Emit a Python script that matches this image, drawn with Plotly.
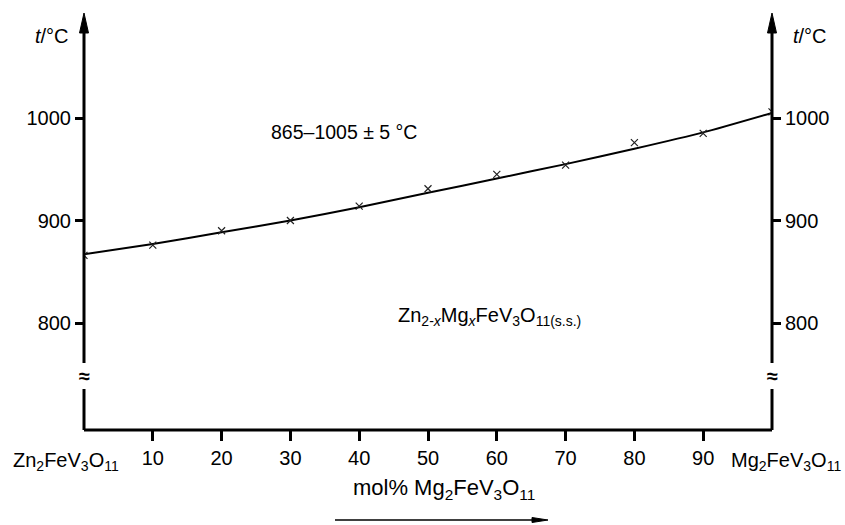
import plotly.graph_objects as go

# ---- data ----
composition = [0, 10, 20, 30, 40, 50, 60, 70, 80, 90, 100]          # mol% Mg2FeV3O11
t_measured = [866, 876, 890, 900, 914, 931, 945, 954, 976, 985, 1006]  # °C
curve_t = [867, 877, 888.5, 900, 913, 927, 941, 955, 970, 986, 1005]   # smoothed line
x_tick_vals = [10, 20, 30, 40, 50, 60, 70, 80, 90]
y_tick_vals = [800, 900, 1000]
end_labels = ["Zn<sub>2</sub>FeV<sub>3</sub>O<sub>11</sub>", "Mg<sub>2</sub>FeV<sub>3</sub>O<sub>11</sub>"]
range_label = "865–1005 ± 5 °C"
phase_label = "Zn<sub>2-<i>x</i></sub>Mg<sub><i>x</i></sub>FeV<sub>3</sub>O<sub>11(s.s.)</sub>"
x_title = "mol% Mg<sub>2</sub>FeV<sub>3</sub>O<sub>11</sub>"
y_title = "<i>t</i>/°C"

# ---- layout geometry (pixels) ----
W, H = 845, 525
L, R, T, B = 84, 772, 15, 430
Y_RANGE = [695.6, 1100.5]
BREAK = [735.6, 761.0]
FONT = "Liberation Sans, Arial, Helvetica, sans-serif"
FS = 20


def px(x):
    return (x - L) / (R - L)


def py(y):
    return (B - y) / (B - T)


fig = go.Figure()
fig.add_trace(go.Scatter(x=composition, y=curve_t, mode="lines",
                         line=dict(color="black", width=2, shape="spline", smoothing=0.6),
                         hoverinfo="skip", showlegend=False))
fig.add_trace(go.Scatter(x=composition, y=t_measured, mode="markers",
                         marker=dict(symbol="x-thin", size=7, line=dict(color="#222", width=1.2)),
                         showlegend=False))
fig.add_trace(go.Scatter(x=composition, y=t_measured, yaxis="y2", mode="markers",
                         marker=dict(opacity=0), hoverinfo="skip", showlegend=False))

common = dict(showline=False, showgrid=False, zeroline=False, automargin=False,
              tickfont=dict(size=FS), fixedrange=True)
fig.update_layout(
    width=W, height=H,
    margin=dict(l=L, r=W - R, t=T, b=H - B, autoexpand=False),
    paper_bgcolor="white", plot_bgcolor="white",
    font=dict(family=FONT, size=FS, color="black"),
    xaxis=dict(range=[0, 100], tickvals=x_tick_vals, ticks="outside", ticklen=10, tickwidth=3,
               tickcolor="black", **common),
    yaxis=dict(range=Y_RANGE, tickvals=y_tick_vals, ticks="outside", ticklen=8, tickwidth=2.5,
               tickcolor="black", **common),
    yaxis2=dict(range=Y_RANGE, overlaying="y", side="right", tickvals=y_tick_vals, ticks="outside",
                ticklen=8, tickwidth=2.5, tickcolor="black", anchor="x", **common),
)

line_style = dict(color="black", width=3)
shapes = []
shapes.append(dict(type="line", xref="paper", yref="paper", x0=0, x1=1, y0=0, y1=0, line=line_style))
for xp in (0, 1):
    shapes.append(dict(type="line", xref="paper", yref="y", x0=xp, x1=xp, y0=Y_RANGE[0], y1=BREAK[0],
                       line=line_style))
    shapes.append(dict(type="line", xref="paper", yref="y", x0=xp, x1=xp, y0=BREAK[1], y1=Y_RANGE[1] - 8,
                       line=line_style))
    tip, base, hw = py(13), py(33), 4.5 / (R - L)
    shapes.append(dict(type="path", xref="paper", yref="paper",
                       path=f"M {xp - hw} {base} L {xp} {tip} L {xp + hw} {base} Z",
                       fillcolor="black", line=dict(color="black", width=1)))
ax0, ax1, ay = px(335), px(548), py(520)
shapes.append(dict(type="line", xref="paper", yref="paper", x0=ax0, x1=px(535), y0=ay, y1=ay,
                   line=dict(color="black", width=1.5)))
hh = 2.5 / (B - T)
shapes.append(dict(type="path", xref="paper", yref="paper",
                   path=f"M {px(532)} {ay + hh} L {ax1} {ay} L {px(532)} {ay - hh} Z",
                   fillcolor="black", line=dict(color="black", width=1)))
fig.update_layout(shapes=shapes)

ann = []
ann.append(dict(text=y_title, xref="paper", yref="paper", x=px(71), y=py(36), xanchor="right",
                yanchor="middle", showarrow=False, font=dict(size=FS)))
ann.append(dict(text=y_title, xref="paper", yref="paper", x=px(791), y=py(36), xanchor="left",
                yanchor="middle", showarrow=False, font=dict(size=FS)))
ann.append(dict(text=range_label, xref="paper", yref="paper", x=px(344), y=py(132), xanchor="center",
                yanchor="middle", showarrow=False, font=dict(size=FS - 0.5)))
ann.append(dict(text=phase_label, xref="paper", yref="paper", x=px(489), y=py(316), xanchor="center",
                yanchor="middle", showarrow=False, font=dict(size=FS)))
ann.append(dict(text=x_title, xref="paper", yref="paper", x=px(444), y=py(489), xanchor="center",
                yanchor="middle", showarrow=False, font=dict(size=FS + 2)))
ann.append(dict(text=end_labels[0], xref="paper", yref="paper", x=px(121), y=py(461), xanchor="right",
                yanchor="middle", showarrow=False, font=dict(size=FS)))
ann.append(dict(text=end_labels[1], xref="paper", yref="paper", x=px(729), y=py(461), xanchor="left",
                yanchor="middle", showarrow=False, font=dict(size=FS)))
for xp in (0, 1):
    ann.append(dict(text="<b>≈</b>", xref="paper", yref="y", x=xp, y=sum(BREAK) / 2, xanchor="center",
                    yanchor="middle", showarrow=False, font=dict(size=FS)))
fig.update_layout(annotations=ann)

fig.write_html("out.html", config={"displayModeBar": False},
               post_script="document.body.style.margin='0px';")
